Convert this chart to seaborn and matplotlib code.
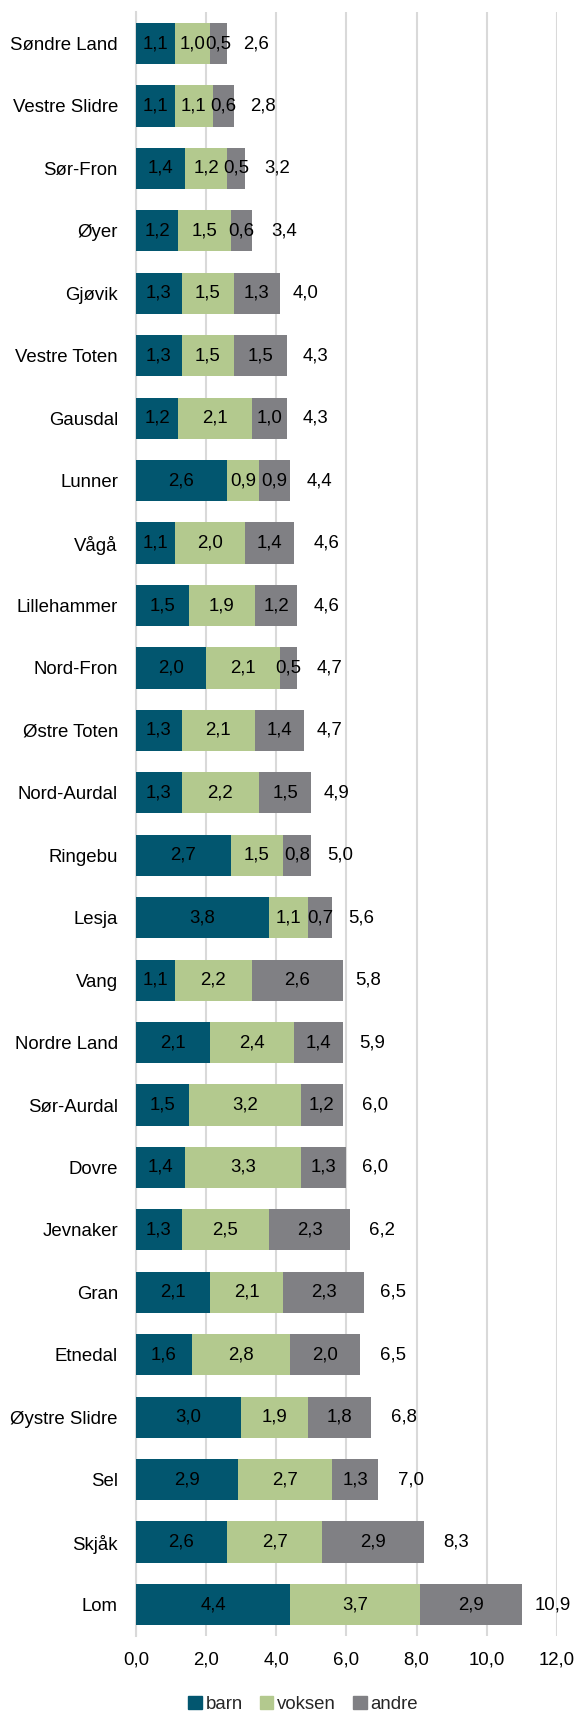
import numpy as np
import pandas as pd
import matplotlib
matplotlib.use("Agg")
import matplotlib.pyplot as plt
from matplotlib.patches import Patch
import seaborn as sns

kommuner = ["Søndre Land", "Vestre Slidre", "Sør-Fron", "Øyer", "Gjøvik", "Vestre Toten",
            "Gausdal", "Lunner", "Vågå", "Lillehammer", "Nord-Fron", "Østre Toten",
            "Nord-Aurdal", "Ringebu", "Lesja", "Vang", "Nordre Land", "Sør-Aurdal",
            "Dovre", "Jevnaker", "Gran", "Etnedal", "Øystre Slidre", "Sel", "Skjåk", "Lom"]
barn = [1.1, 1.1, 1.4, 1.2, 1.3, 1.3, 1.2, 2.6, 1.1, 1.5, 2.0, 1.3, 1.3, 2.7, 3.8, 1.1,
        2.1, 1.5, 1.4, 1.3, 2.1, 1.6, 3.0, 2.9, 2.6, 4.4]
voksen = [1.0, 1.1, 1.2, 1.5, 1.5, 1.5, 2.1, 0.9, 2.0, 1.9, 2.1, 2.1, 2.2, 1.5, 1.1, 2.2,
          2.4, 3.2, 3.3, 2.5, 2.1, 2.8, 1.9, 2.7, 2.7, 3.7]
andre = [0.5, 0.6, 0.5, 0.6, 1.3, 1.5, 1.0, 0.9, 1.4, 1.2, 0.5, 1.4, 1.5, 0.8, 0.7, 2.6,
         1.4, 1.2, 1.3, 2.3, 2.3, 2.0, 1.8, 1.3, 2.9, 2.9]
totalt = [2.6, 2.8, 3.2, 3.4, 4.0, 4.3, 4.3, 4.4, 4.6, 4.6, 4.7, 4.7, 4.9, 5.0, 5.6, 5.8,
          5.9, 6.0, 6.0, 6.2, 6.5, 6.5, 6.8, 7.0, 8.3, 10.9]
x_ticks = [0, 2, 4, 6, 8, 10, 12]

C_BARN = "#02566F"
C_VOKSEN = "#B3C98E"
C_ANDRE = "#808084"

df = pd.DataFrame({"kommune": kommuner, "barn": barn, "voksen": voksen,
                   "andre": andre, "totalt": totalt})
df["s1"] = df["barn"]
df["s2"] = df["barn"] + df["voksen"]
df["s3"] = df["s2"] + df["andre"]

sns.set_style("white")
plt.rcParams["font.family"] = ["Liberation Sans", "DejaVu Sans"]
FS = 13.4

fig = plt.figure(figsize=(5.76, 17.13), dpi=100)
ax = fig.add_axes([0.236, 0.0451, 0.731, 0.9477])

# stacked bars: draw cumulative sums, widest first
for col, color in [("s3", C_ANDRE), ("s2", C_VOKSEN), ("s1", C_BARN)]:
    sns.barplot(data=df, x=col, y="kommune", orient="h", color=color,
                width=0.66, linewidth=0, saturation=1, ax=ax, zorder=3)

def fmt(v):
    return f"{v:.1f}".replace(".", ",")

for i, row in df.iterrows():
    starts = [0, row["s1"], row["s2"]]
    vals = [row["barn"], row["voksen"], row["andre"]]
    for s, v in zip(starts, vals):
        ax.text(s + v / 2, i, fmt(v), ha="center", va="center",
                fontsize=FS, color="black", zorder=5)
    ax.annotate(fmt(row["totalt"]), xy=(row["totalt"], i), xytext=(16, 0),
                textcoords="offset pixels", ha="left", va="center",
                fontsize=FS, color="black")

ax.set_xlim(0, 12)
ax.set_ylim(len(kommuner) - 0.5, -0.5)
ax.set_xticks(x_ticks)
ax.set_xticklabels([fmt(t) for t in x_ticks], fontsize=FS)
ax.set_xlabel("")
ax.set_ylabel("")
ax.tick_params(axis="y", length=0, pad=13, labelsize=FS, labelcolor="black")
ax.tick_params(axis="x", length=0, pad=11, labelsize=FS, labelcolor="black")
ax.xaxis.grid(True, color="#D9D9D9", linewidth=1.5, zorder=0)
ax.set_axisbelow(True)
for side in ["top", "right", "bottom"]:
    ax.spines[side].set_visible(False)
ax.spines["left"].set_color("#D9D9D9")
ax.spines["left"].set_linewidth(1.5)

handles = [Patch(color=C_BARN, label="barn"),
           Patch(color=C_VOKSEN, label="voksen"),
           Patch(color=C_ANDRE, label="andre")]
fig.legend(handles=handles, loc="lower center", bbox_to_anchor=(0.526, 0.0), ncol=3,
           frameon=False, fontsize=FS, handlelength=0.75, handleheight=0.75,
           handletextpad=0.2, columnspacing=0.9, borderaxespad=0.0, borderpad=0.0)

fig.savefig("out.png", dpi=100)
